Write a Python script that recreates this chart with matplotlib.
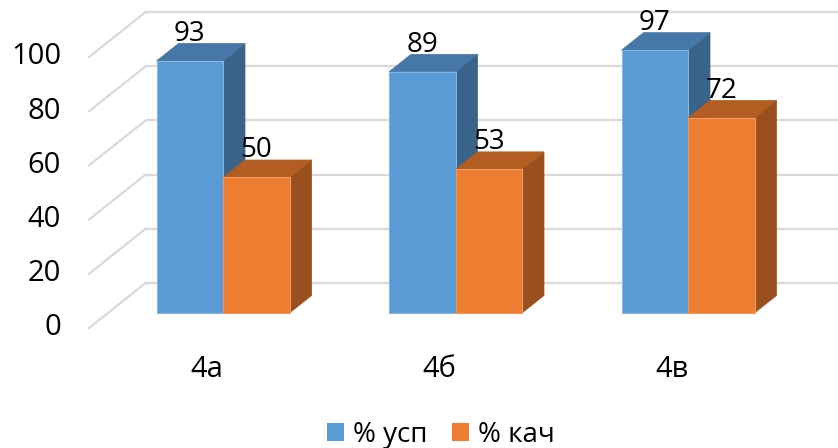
import matplotlib
matplotlib.use("Agg")
import matplotlib.pyplot as plt
from matplotlib.patches import Polygon, Patch

plt.rcParams['font.family'] = ['Open Sans', 'DejaVu Sans']

categories = ['4а', '4б', '4в']
series_names = ['% усп', '% кач']
usp = [93, 89, 97]
kach = [50, 53, 72]
yticks = [0, 20, 40, 60, 80, 100]

front_colors = ['#5B9BD5', '#ED7D31']
top_colors = ['#4777A6', '#B35D22']
side_colors = ['#3A6389', '#9A4F1E']
edge_colors = ['#86B6E2', '#F19A5E']

W, H = 838, 448
fig = plt.figure(figsize=(W / 100, H / 100), dpi=100)
ax = fig.add_axes([0, 0, 1, 1])
ax.set_axis_off()

# data coordinates: x in category units (232.5 px), y in value units (2.71 px)
px_x = 232.5
px_y = 2.71
ax.set_xlim(-223 / px_x, (W - 223) / px_x)
ax.set_ylim(-(H - 313) / px_y, 313 / px_y)

ddx = 22 / px_x      # oblique offset per unit depth (x)
ddy = 17.5 / px_y    # oblique offset per unit depth (y)
d_front, d_back = -0.857, 1.714
left_wall = -0.495
right_wall = 2.6
bar_w = 66.5 / px_x

grid_c = '#D9D9D9'
for v in yticks:
    # back wall line
    ax.plot([left_wall + d_back * ddx, right_wall + d_back * ddx],
            [v + d_back * ddy, v + d_back * ddy], color=grid_c, lw=1.6, zorder=1,
            solid_capstyle='butt')
    # side wall diagonal
    ax.plot([left_wall + d_front * ddx, left_wall + d_back * ddx],
            [v + d_front * ddy, v + d_back * ddy], color=grid_c, lw=1.6, zorder=1)
    ax.text(left_wall + d_front * ddx - 0.12, v + d_front * ddy, str(v),
            ha='right', va='center', fontsize=21, color='#000000')

z = 2
for i, cat in enumerate(categories):
    for s, vals in enumerate([usp, kach]):
        v = vals[i]
        x0 = i - bar_w + s * bar_w
        x1 = x0 + bar_w
        front = Polygon([(x0, 0), (x1, 0), (x1, v), (x0, v)], closed=True,
                        facecolor=front_colors[s], edgecolor=edge_colors[s], lw=0.8, zorder=z)
        top = Polygon([(x0, v), (x1, v), (x1 + ddx, v + ddy), (x0 + ddx, v + ddy)], closed=True,
                      facecolor=top_colors[s], edgecolor=top_colors[s], lw=0.5, zorder=z)
        side = Polygon([(x1, 0), (x1 + ddx, ddy), (x1 + ddx, v + ddy), (x1, v)], closed=True,
                       facecolor=side_colors[s], edgecolor=side_colors[s], lw=0.5, zorder=z)
        ax.add_patch(side)
        ax.add_patch(top)
        ax.add_patch(front)
        z += 1
        ax.text((x0 + x1) / 2, v + ddy + 1.0, str(v), ha='center', va='baseline',
                fontsize=20, color='#000000', zorder=20)
    ax.text(i + d_front * ddx + 0.012, -23.6, cat, ha='center', va='baseline',
            fontsize=21, color='#000000')

handles = [Patch(facecolor=front_colors[k], edgecolor='none') for k in range(2)]
fig.legend(handles, series_names, loc='center', bbox_to_anchor=(0.526, 0.029),
           ncol=2, frameon=False, fontsize=20, handlelength=0.62, handleheight=0.6,
           handletextpad=0.3, columnspacing=0.9, borderpad=0)

fig.savefig('out.png', dpi=100)
